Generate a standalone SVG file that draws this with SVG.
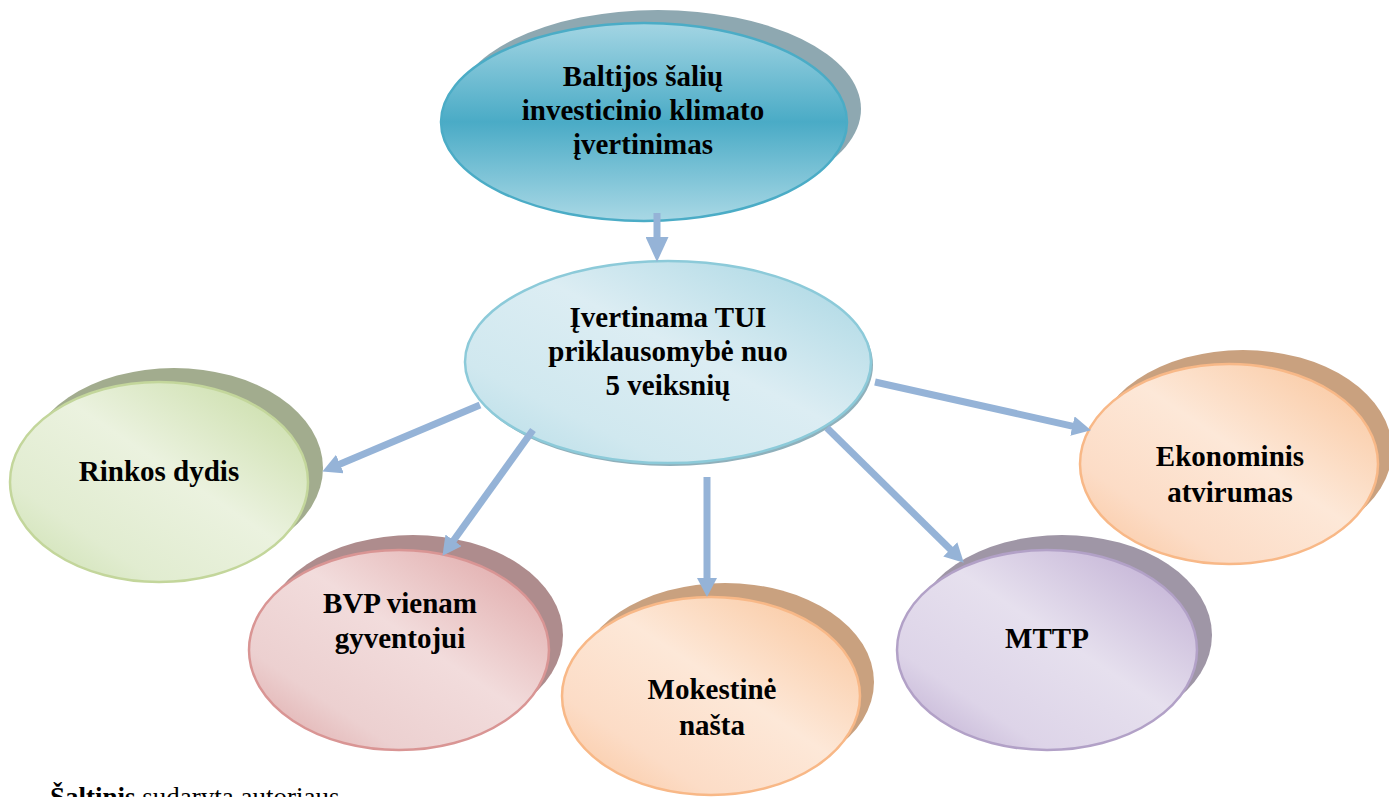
<svg xmlns="http://www.w3.org/2000/svg" width="1389" height="797" viewBox="0 0 1389 797">
<defs>
<style>
.lbl{font-family:"Liberation Serif","Times New Roman",serif;font-weight:bold;font-size:29px;fill:#000;text-anchor:middle}
.front{stroke-width:2.5}
.conn{stroke:#95b3d7;stroke-width:7;fill:none}
</style>
<linearGradient id="gTop" x1="0" y1="0" x2="0" y2="1">
<stop offset="0" stop-color="#a3d5e3"/><stop offset="0.5" stop-color="#4aabc6"/><stop offset="1" stop-color="#a9d8e5"/>
</linearGradient>
<linearGradient id="gMid" x1="1" y1="0" x2="0" y2="1">
<stop offset="0" stop-color="#a5d5e2"/><stop offset="0.45" stop-color="#dcedf3"/><stop offset="0.75" stop-color="#d0e8ef"/><stop offset="1" stop-color="#b3dbe6"/>
</linearGradient>
<linearGradient id="gGreen" x1="1" y1="0" x2="0" y2="1">
<stop offset="0" stop-color="#c6dba2"/><stop offset="0.45" stop-color="#ebf2df"/><stop offset="0.75" stop-color="#e1ecd0"/><stop offset="1" stop-color="#cadfac"/>
</linearGradient>
<linearGradient id="gPink" x1="1" y1="0" x2="0" y2="1">
<stop offset="0" stop-color="#dea3a3"/><stop offset="0.45" stop-color="#f2dcdc"/><stop offset="0.75" stop-color="#ecd0d0"/><stop offset="1" stop-color="#dca2a2"/>
</linearGradient>
<linearGradient id="gPeach" x1="1" y1="0" x2="0" y2="1">
<stop offset="0" stop-color="#f9c398"/><stop offset="0.45" stop-color="#fde8d8"/><stop offset="0.75" stop-color="#fcdcc6"/><stop offset="1" stop-color="#f9c49b"/>
</linearGradient>
<linearGradient id="gLav" x1="1" y1="0" x2="0" y2="1">
<stop offset="0" stop-color="#bdaad1"/><stop offset="0.45" stop-color="#e6e0ee"/><stop offset="0.75" stop-color="#ddd4e8"/><stop offset="1" stop-color="#baa7ce"/>
</linearGradient>
<marker id="headBig" markerUnits="userSpaceOnUse" markerWidth="25" markerHeight="23" viewBox="0 0 25 23" refX="1" refY="11.5" orient="auto">
<path d="M0,0 L25,11.5 L0,23 z" fill="#95b3d7"/>
</marker>
<marker id="head" markerUnits="userSpaceOnUse" markerWidth="19" markerHeight="20" viewBox="0 0 19 20" refX="1" refY="10" orient="auto">
<path d="M0,0 L19,10 L0,20 z" fill="#95b3d7"/>
</marker>
</defs>
<rect width="1389" height="797" fill="#fff"/>

<g id="node-top">
<ellipse cx="658" cy="109" rx="203" ry="99" fill="#8ea8b1"/>
<ellipse class="front" cx="644" cy="122" rx="203" ry="99" fill="url(#gTop)" stroke="#4bacc6"/>
<text class="lbl" x="643" y="86">Baltijos šalių</text>
<text class="lbl" x="643" y="120">investicinio klimato</text>
<text class="lbl" x="643" y="154">įvertinimas</text>
</g>

<g id="node-center">
<ellipse cx="670" cy="365" rx="203" ry="101" fill="#8fb0bb"/>
<ellipse class="front" cx="668" cy="362" rx="203" ry="101" fill="url(#gMid)" stroke="#8ccad9"/>
<text class="lbl" x="668" y="327">Įvertinama TUI</text>
<text class="lbl" x="668" y="361">priklausomybė nuo</text>
<text class="lbl" x="668" y="395">5 veiksnių</text>
</g>

<g id="node-rinkos">
<ellipse cx="174" cy="468" rx="149" ry="100" fill="#a2ac8e"/>
<ellipse class="front" cx="159" cy="482" rx="149" ry="100" fill="url(#gGreen)" stroke="#c3d69b"/>
<text class="lbl" x="159" y="481">Rinkos dydis</text>
</g>

<g id="node-bvp">
<ellipse cx="413" cy="635" rx="150" ry="100" fill="#ae8c8d"/>
<ellipse class="front" cx="399" cy="650" rx="150" ry="100" fill="url(#gPink)" stroke="#d99594"/>
<text class="lbl" x="400" y="613">BVP vienam</text>
<text class="lbl" x="400" y="648">gyventojui</text>
</g>

<g id="node-mokestine">
<ellipse cx="725" cy="682" rx="149" ry="99" fill="#c9a17f"/>
<ellipse class="front" cx="711" cy="696" rx="149" ry="99" fill="url(#gPeach)" stroke="#f8b887"/>
<text class="lbl" x="712" y="699">Mokestinė</text>
<text class="lbl" x="712" y="735">našta</text>
</g>

<g id="node-mttp">
<ellipse cx="1062" cy="635" rx="150" ry="100" fill="#9f96a6"/>
<ellipse class="front" cx="1047" cy="650" rx="150" ry="100" fill="url(#gLav)" stroke="#b2a1c7"/>
<text class="lbl" x="1047" y="648">MTTP</text>
</g>

<g id="node-ekonominis">
<ellipse cx="1243" cy="450" rx="149" ry="100" fill="#c9a17f"/>
<ellipse class="front" cx="1229" cy="464" rx="149" ry="100" fill="url(#gPeach)" stroke="#f8b887"/>
<text class="lbl" x="1230" y="466">Ekonominis</text>
<text class="lbl" x="1230" y="502">atvirumas</text>
</g>

<g id="connectors">
<path class="conn" d="M657,213 L657,238" marker-end="url(#headBig)"/>
<path class="conn" d="M480,405 L339,464.4" marker-end="url(#head)"/>
<path class="conn" d="M533,430 L453,541.2" marker-end="url(#head)"/>
<path class="conn" d="M707,477 L707,579" marker-end="url(#head)"/>
<path class="conn" d="M827,428 L951,550.1" marker-end="url(#head)"/>
<path class="conn" d="M875,382 L1073.4,426.3" marker-end="url(#head)"/>
</g>

<text x="50" y="806" font-family="'Liberation Serif','Times New Roman',serif" font-size="27"><tspan font-weight="bold">Šaltinis</tspan> sudaryta autoriaus</text>
</svg>
